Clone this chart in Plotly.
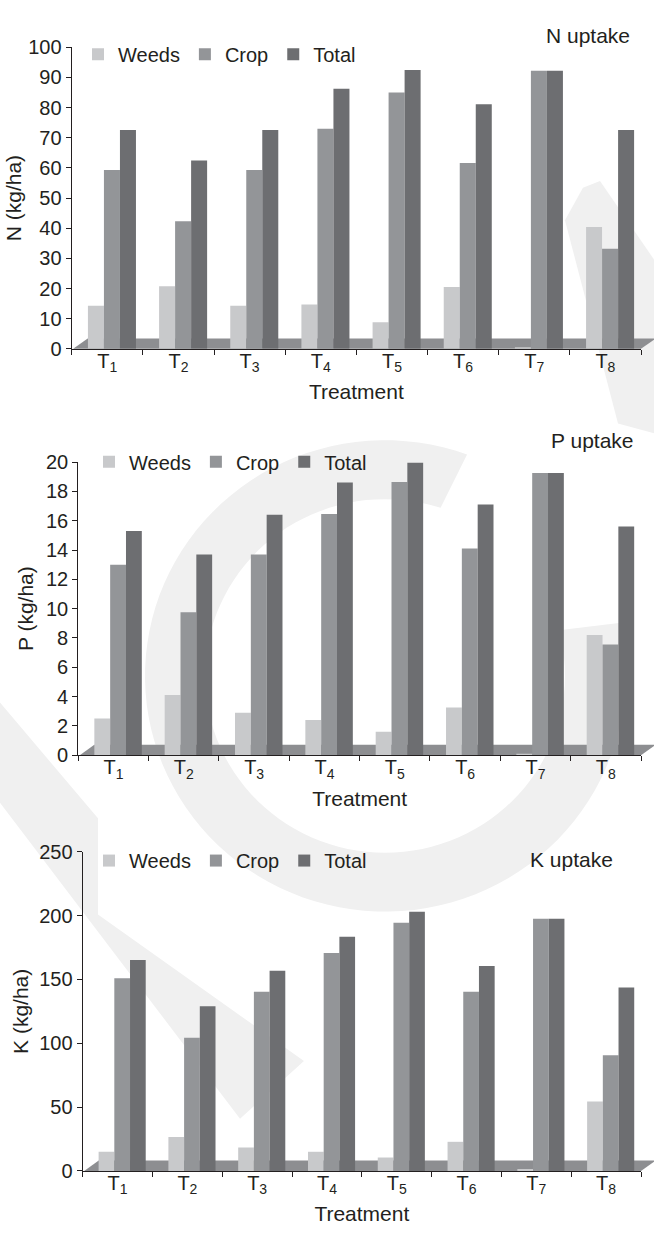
import math
import plotly.graph_objects as go

W, H = 654, 1233

# ---------------- data ----------------
treatments = ["T<sub>1</sub>", "T<sub>2</sub>", "T<sub>3</sub>", "T<sub>4</sub>",
              "T<sub>5</sub>", "T<sub>6</sub>", "T<sub>7</sub>", "T<sub>8</sub>"]
series_names = ["Weeds", "Crop", "Total"]

n_weeds = [14.3, 20.8, 14.3, 14.7, 8.8, 20.5, 0.5, 40.4]
n_crop = [59.3, 42.3, 59.3, 73.0, 85.0, 61.6, 92.2, 33.2]
n_total = [72.6, 62.5, 72.6, 86.3, 92.5, 81.1, 92.2, 72.6]

p_weeds = [2.5, 4.1, 2.9, 2.4, 1.6, 3.25, 0.1, 8.2]
p_crop = [13.0, 9.75, 13.7, 16.45, 18.65, 14.1, 19.25, 7.55]
p_total = [15.3, 13.7, 16.4, 18.6, 19.95, 17.1, 19.25, 15.6]

k_weeds = [15.0, 26.5, 18.3, 15.0, 10.5, 22.8, 1.5, 54.3]
k_crop = [151.0, 104.3, 140.4, 170.6, 194.3, 140.4, 197.5, 90.6]
k_total = [165.2, 129.0, 156.7, 183.5, 203.0, 160.6, 197.5, 143.6]

y_titles = ["N (kg/ha)", "P (kg/ha)", "K (kg/ha)"]
panel_titles = ["N uptake", "P uptake", "K uptake"]
y_ranges = [[0, 100], [0, 20], [0, 250]]
y_dticks = [10, 2, 50]

# ---------------- style ----------------
colors = ["#c8c9cb", "#939598", "#6d6e71"]
floor_color = "#8d8e91"
wm_color = "#f0f0f0"
ink = "#231f20"
FONT = "Liberation Sans, Arial, sans-serif"
bar_w = 0.225
offsets = [-0.272, -0.047, 0.178]

# panel geometry in pixels (left, right, top, bottom)
panels = [
    dict(l=71.7, r=641.0, t=37.0, b=344.0, tx=632, ty=25, lx=78, ly=44, so=0),
    dict(l=78.3, r=641.0, t=459.3, b=757.7, tx=636, ty=437, lx=89, ly=459, so=6),
    dict(l=82.7, r=641.0, t=856.0, b=1181.0, tx=615, ty=864, lx=89, ly=865, so=4),
]
values = [(n_weeds, n_crop, n_total), (p_weeds, p_crop, p_total), (k_weeds, k_crop, k_total)]


def fx(p):
    return p / W


def fy(p):
    return 1 - p / H


def poly_path(pts):
    return "M " + " L ".join(f"{fx(x):.4f},{fy(y):.4f}" for x, y in pts) + " Z"


fig = go.Figure()
layout = dict(
    width=W, height=H,
    margin=dict(l=0, r=0, t=0, b=0),
    paper_bgcolor="white", plot_bgcolor="rgba(0,0,0,0)",
    font=dict(family=FONT, color=ink, size=20),
    barmode="overlay",
    shapes=[], annotations=[],
)

# ---------------- watermark (faint logo in background) ----------------
cx, cy, ro, ri = 385, 677, 240, 180
a0, a1 = 70, 375
ring = [(cx + ro * math.cos(math.radians(a)), cy - ro * math.sin(math.radians(a)))
        for a in range(a0, a1 + 1, 3)]
ring += [(cx + ri * math.cos(math.radians(a)), cy - ri * math.sin(math.radians(a)))
         for a in range(a1, a0 - 1, -3)]
band_left = [(0, 704), (98, 822), (98, 920), (304, 1069), (240, 1128), (0, 806)]
band_tr = [(565, 213), (583, 180), (600, 173), (654, 253), (654, 430), (618, 420)]
for poly in (ring, band_left, band_tr):
    layout["shapes"].append(dict(type="path", xref="paper", yref="paper", path=poly_path(poly),
                                 fillcolor=wm_color, line=dict(width=0), layer="below"))

# ---------------- panels ----------------
for i, (pg, vals) in enumerate(zip(panels, values)):
    sfx = "" if i == 0 else str(i + 1)
    xa, ya = "x" + sfx, "y" + sfx
    leg = "legend" + sfx
    for name, v, c, off in zip(series_names, vals, colors, offsets):
        fig.add_trace(go.Bar(
            x=treatments, y=v, name=name, marker=dict(color=c, line=dict(width=0)),
            width=bar_w, offset=off, xaxis=xa, yaxis=ya, legend=leg,
            hovertemplate="%{x}: %{y}<extra>" + name + "</extra>",
        ))
    layout["xaxis" + sfx] = dict(
        domain=[fx(pg["l"]), fx(pg["r"])], anchor=ya, type="category",
        range=[-0.5, 7.5], tickson="boundaries", ticks="outside", ticklen=5,
        tickcolor=ink, tickwidth=1.3, showline=True, linecolor=ink, linewidth=1.3,
        showgrid=False, zeroline=False, tickfont=dict(size=20), ticklabelstandoff=-6,
        title=dict(text="Treatment", font=dict(size=21), standoff=10),
    )
    layout["yaxis" + sfx] = dict(
        domain=[fy(pg["b"]), fy(pg["t"])], anchor=xa, range=y_ranges[i],
        dtick=y_dticks[i], tick0=0, ticks="outside", ticklen=5, tickcolor=ink,
        tickwidth=1.3, showline=True, linecolor=ink, linewidth=1.3,
        showgrid=False, zeroline=False, tickfont=dict(size=20),
        title=dict(text=y_titles[i], font=dict(size=21), standoff=pg["so"]),
    )
    layout[leg] = dict(
        orientation="h", x=fx(pg["lx"]), y=fy(pg["ly"]), xanchor="left",
        yanchor="middle", bgcolor="rgba(0,0,0,0)", borderwidth=0,
        font=dict(size=20, color=ink), itemwidth=30, traceorder="normal",
    )
    layout["annotations"].append(dict(
        text=panel_titles[i], xref="paper", yref="paper", x=fx(pg["tx"]), y=fy(pg["ty"]),
        xanchor="right", yanchor="middle", showarrow=False, font=dict(size=21, color=ink),
    ))
    # floor (3-D base) drawn under the bars
    dx, dy = 14.5, 10.5
    fl = [(pg["l"] + 1.5, pg["b"]), (pg["l"] + 1.5 + dx, pg["b"] - dy),
          (pg["r"] + dx, pg["b"] - dy), (pg["r"], pg["b"])]
    layout["shapes"].append(dict(type="path", xref="paper", yref="paper", path=poly_path(fl),
                                 fillcolor=floor_color, line=dict(width=0), layer="below"))

fig.update_layout(**layout)

# pin the figure to the page's top-left corner so the page is exactly 654x1233
pin_js = (
    "document.documentElement.style.margin='0';"
    "document.body.style.margin='0';"
    "document.body.style.overflow='hidden';"
    "var gd=document.getElementById('{plot_id}');"
    "gd.style.position='absolute';gd.style.left='0px';gd.style.top='0px';"
)
fig.write_html("out.html", config={"displayModeBar": False}, post_script=pin_js)
